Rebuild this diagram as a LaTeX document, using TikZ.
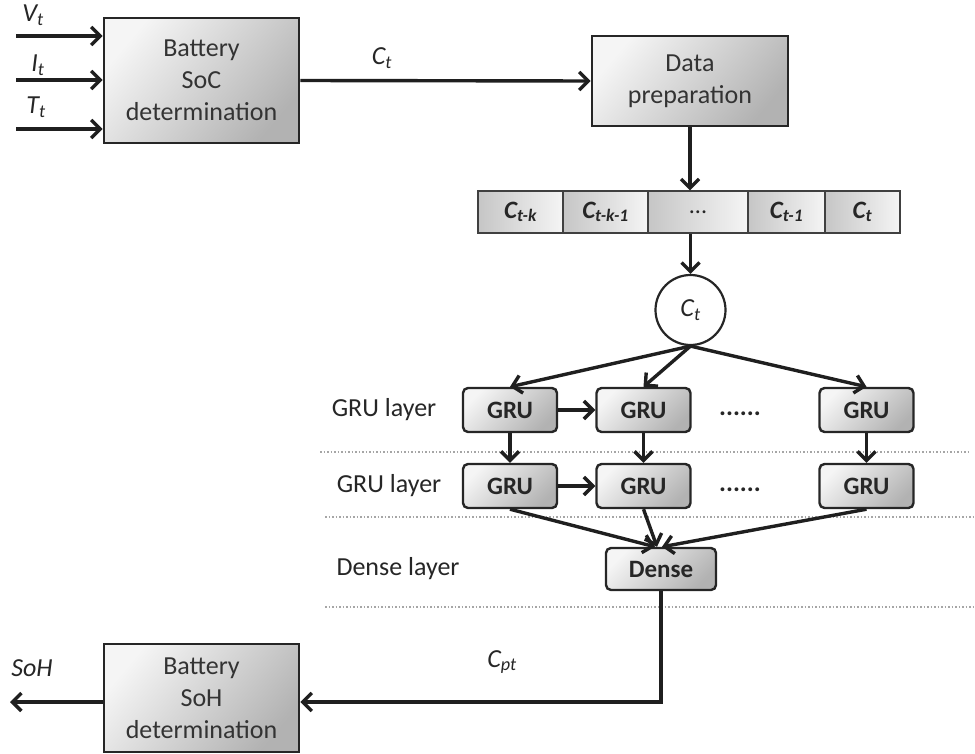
\documentclass[tikz,border=0pt]{standalone}
\usepackage{fontspec}
\setmainfont{Carlito}
\usetikzlibrary{arrows.meta}
\begin{document}
\begin{tikzpicture}[x=1pt,y=-1pt,
  arr/.style={line width=3.4pt,draw=black!88,-{Straight Barb[length=9pt,width=18pt]}},
  bigbox/.style={draw=black!85,line width=2.8pt,inner sep=0pt,align=center,
     top color=gray!8,bottom color=gray!60,shading angle=50,
     text=black!80,font=\fontsize{26}{32}\selectfont},
  cell/.style={draw=black!75,line width=1.2pt,inner sep=0pt,minimum height=42pt,
     left color=gray!45,right color=gray!8,text=black!85,
     font=\fontsize{25}{28}\selectfont\bfseries\itshape},
  gru/.style={draw=black!85,line width=2.4pt,rounded corners=5pt,inner sep=0pt,
     minimum height=44pt,top color=gray!8,bottom color=gray!60,shading angle=45,
     text=black!85,font=\fontsize{25}{30}\selectfont\bfseries},
  lbl/.style={text=black!85,font=\fontsize{26}{30}\selectfont},
  ilbl/.style={text=black!85,font=\fontsize{26}{30}\selectfont\itshape},
  sep/.style={draw=gray!70,line width=1.5pt,dotted}
]
\useasboundingbox (0,0) rectangle (975,754);

% separators
\draw[sep] (320,452) -- (970,452);
\draw[sep] (325,517) -- (975,517);
\draw[sep] (325,607) -- (975,607);

% boxes
\node[bigbox,minimum width=195pt,minimum height=125pt] (soc) at (201.5,80.5) {Battery\\SoC\\determination};
\node[bigbox,minimum width=196pt,minimum height=90pt] (dp) at (690,81) {Data\\preparation};
\node[bigbox,minimum width=195pt,minimum height=108pt] (soh) at (201.5,698) {Battery\\SoH\\determination};

% array
\node[cell,minimum width=85pt] (c1) at (520.5,212) {C\textsubscript{t-k}};
\node[cell,minimum width=85pt] (c2) at (605.5,212) {C\textsubscript{t-k-1}};
\node[cell,minimum width=100pt,font=\fontsize{24}{28}\selectfont] (c3) at (698,212) {...};
\node[cell,minimum width=77pt] (c4) at (786.5,212) {C\textsubscript{t-1}};
\node[cell,minimum width=75pt] (c5) at (862.5,212) {C\textsubscript{t}};

% circle
\node[circle,draw=black!85,line width=2.2pt,minimum size=70pt,inner sep=0pt,fill=white,ilbl] (ct) at (690.5,310) {C\textsubscript{t}};

% GRUs
\node[gru,minimum width=94pt] (ga1) at (510,410) {GRU};
\node[gru,minimum width=94pt] (gb1) at (643.5,410) {GRU};
\node[gru,minimum width=94pt] (gc1) at (866.5,410) {GRU};
\node[gru,minimum width=94pt] (ga2) at (510,486) {GRU};
\node[gru,minimum width=94pt] (gb2) at (643.5,486) {GRU};
\node[gru,minimum width=94pt] (gc2) at (866.5,486) {GRU};
\node[gru,minimum width=110pt,minimum height=42pt] (dense) at (661,569) {Dense};

\node[lbl,font=\fontsize{26}{30}\selectfont\bfseries,anchor=base] (d1) at (740,415) {......};
\node[lbl,font=\fontsize{26}{30}\selectfont\bfseries,anchor=base] (d2) at (740,491) {......};

% layer labels
\node[lbl] (l1) at (384,410) {GRU layer};
\node[lbl] (l2) at (389,486) {GRU layer};
\node[lbl] (l3) at (398,569) {Dense layer};

% inputs
\coordinate (iv) at (16,36);
\coordinate (ii) at (16,80);
\coordinate (it) at (16,129);
\node[ilbl] (lv) at (33,15) {V\textsubscript{t}};
\node[ilbl] (li) at (38,65) {I\textsubscript{t}};
\node[ilbl] (lt) at (36,107) {T\textsubscript{t}};
\draw[arr] (iv) -- (soc.west |- iv);
\draw[arr] (ii) -- (soc.west |- ii);
\draw[arr] (it) -- (soc.west |- it);

% top flow
\draw[arr] (soc.east) -- (dp.west);
\node[ilbl] (lct) at (382,58) {C\textsubscript{t}};
\draw[arr] (dp.south) -- (dp.south |- c3.north);
\draw[arr] (ct.north |- c3.south) -- (ct.north);

% circle to GRUs
\draw[arr] (ct.south) -- (ga1.north);
\draw[arr] (ct.south) -- (gb1.north);
\draw[arr] (ct.south) -- (gc1.north);

% GRU links
\draw[arr] (ga1.east) -- (gb1.west);
\draw[arr] (ga2.east) -- (gb2.west);
\draw[arr] (ga1.south) -- (ga2.north);
\draw[arr] (gb1.south) -- (gb2.north);
\draw[arr] (gc1.south) -- (gc2.north);

% to dense
\draw[arr] (ga2.south) -- ([xshift=-6pt]dense.north);
\draw[arr] (gb2.south) -- ([xshift=-4pt]dense.north);
\draw[arr] (gc2.south) -- ([xshift=1pt]dense.north);

% output
\coordinate (cp) at (661,702);
\coordinate (out) at (10,702);
\draw[arr] (dense.south) -- (cp) -- (soh.east |- cp);
\node[ilbl] (lcpt) at (502,662) {C\textsubscript{pt}};
\draw[arr] (soh.west |- cp) -- (out);
\node[ilbl] (lsoh) at (32,668) {SoH};
\end{tikzpicture}
\end{document}
